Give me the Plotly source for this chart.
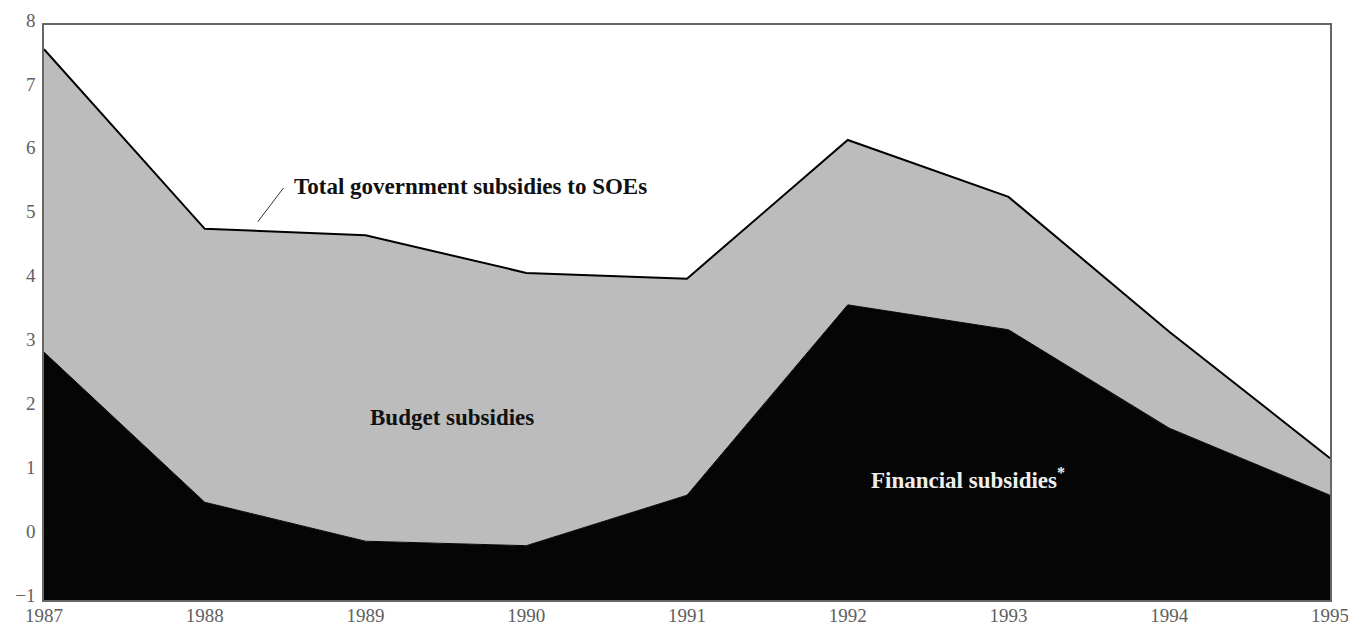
import plotly.graph_objects as go

years = [1987, 1988, 1989, 1990, 1991, 1992, 1993, 1994, 1995]
financial = [2.88, 0.53, -0.08, -0.15, 0.64, 3.62, 3.23, 1.69, 0.64]
total = [7.62, 4.81, 4.71, 4.12, 4.03, 6.2, 5.31, 3.2, 1.22]
y_min, y_max = -1, 8
y_ticks = list(range(-1, 9))
tick_font = dict(family="Liberation Serif", size=19, color="#606060")

fig = go.Figure()
fig.add_trace(go.Scatter(x=years, y=[y_min] * len(years), mode="lines",
                         line=dict(width=0), showlegend=False, hoverinfo="skip"))
fig.add_trace(go.Scatter(x=years, y=financial, mode="lines", fill="tonexty",
                         fillcolor="#050505", line=dict(color="#050505", width=1),
                         showlegend=False, name="Financial subsidies"))
fig.add_trace(go.Scatter(x=years, y=total, mode="lines", fill="tonexty",
                         fillcolor="#bcbcbc", line=dict(color="#000000", width=2),
                         showlegend=False, name="Total"))

fig.update_xaxes(range=[years[0], years[-1]], tickvals=years, ticktext=[str(y) for y in years],
                 showgrid=False, zeroline=False, showline=True, linecolor="#666666",
                 linewidth=1.5, mirror=True, ticks="", tickfont=tick_font,
                 automargin=False, ticklabelstandoff=-3, ticklabeloverflow="allow")
fig.update_yaxes(range=[y_min, y_max], tickvals=y_ticks,
                 ticktext=[("\u2212" + str(-v)) if v < 0 else str(v) for v in y_ticks],
                 showgrid=False, zeroline=False, showline=True, linecolor="#666666",
                 linewidth=1.5, mirror=True, ticks="", tickfont=tick_font,
                 automargin=False, ticklabelstandoff=3, ticklabelshift=-5,
                 ticklabeloverflow="allow")

fig.add_shape(type="line", x0=1988.33, y0=4.92, x1=1988.49, y1=5.45,
              line=dict(color="#333333", width=1))
fig.add_annotation(x=1988.54, y=5.48, text="<b>Total government subsidies to SOEs</b>",
                   showarrow=False, xanchor="left", yanchor="middle",
                   font=dict(family="Liberation Serif", size=23, color="#111111"))
fig.add_annotation(x=1989.54, y=1.85, text="<b>Budget subsidies</b>",
                   showarrow=False, xanchor="center", yanchor="middle",
                   font=dict(family="Liberation Serif", size=23, color="#111111"))
fig.add_annotation(x=1992.75, y=0.9, text="<b>Financial subsidies<sup>*</sup></b>",
                   showarrow=False, xanchor="center", yanchor="middle",
                   font=dict(family="Liberation Serif", size=23, color="#eeeeee"))

fig.update_layout(width=1348, height=629, plot_bgcolor="white", paper_bgcolor="white",
                  margin=dict(l=44, r=18, t=25, b=29, autoexpand=False))
fig.write_html("out.html", config={"displayModeBar": False},
               post_script="document.body.style.margin='0';document.body.style.overflow='hidden';")
